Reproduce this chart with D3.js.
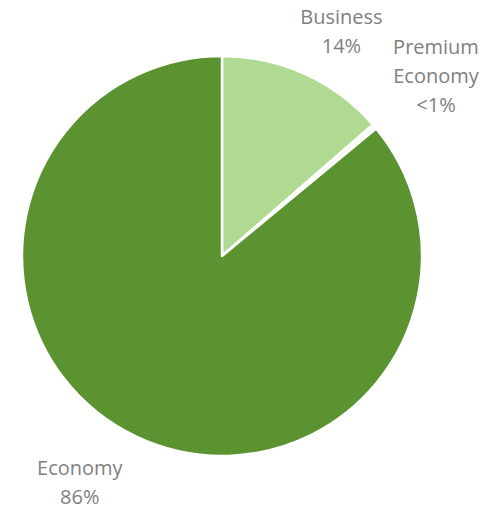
<!DOCTYPE html>
<html>
<head>
<meta charset="utf-8">
<script src="https://cdn.jsdelivr.net/npm/d3@7/dist/d3.min.js"></script>
<style>
  html, body { margin: 0; padding: 0; background: #ffffff; }
  svg { display: block; }
</style>
</head>
<body>
<svg id="chart" width="492" height="513"></svg>
<script>
// Cabin class share of seats
const categories = ["Business", "Premium Economy", "Economy"];
const shares = [13.6, 0.4, 86.0];
const labelLines = [["Business", "14%"], ["Premium", "Economy", "<1%"], ["Economy", "86%"]];
const colors = ["#b0da91", "#f4faef", "#5b9331"];

const width = 492, height = 513;
const cx = 222, cy = 256, radius = 200;
const lineHeight = 29;
// nudges for the label blocks, relative to the label arc centroid
const labelNudge = [[20, 1], [31, -18], [-40, 16]];

const svg = d3.select("#chart");
const g = svg.append("g").attr("transform", `translate(${cx},${cy})`);

const data = categories.map((c, i) => ({ name: c, value: shares[i], lines: labelLines[i], color: colors[i], nudge: labelNudge[i] }));

const pie = d3.pie().sort(null).value(d => d.value).startAngle(0).endAngle(2 * Math.PI);
const arc = d3.arc().innerRadius(0).outerRadius(radius);
const labelArc = d3.arc().innerRadius(240).outerRadius(240);

const arcs = pie(data);

g.selectAll("path.slice")
  .data(arcs)
  .join("path")
  .attr("class", "slice")
  .attr("d", arc)
  .attr("fill", d => d.data.color)
  .attr("stroke", "#ffffff")
  .attr("stroke-width", 2.5)
  .attr("stroke-linejoin", "round");

const labels = g.selectAll("text.label")
  .data(arcs)
  .join("text")
  .attr("class", "label")
  .attr("text-anchor", "middle")
  .attr("font-family", "'Open Sans', sans-serif")
  .attr("font-size", 20)
  .attr("fill", "#808080")
  .attr("transform", d => {
    const [x, y] = labelArc.centroid(d);
    return `translate(${x + d.data.nudge[0]},${y + d.data.nudge[1]})`;
  });

labels.each(function(d) {
  const n = d.data.lines.length;
  const t = d3.select(this);
  d.data.lines.forEach((line, i) => {
    t.append("tspan")
      .attr("x", 0)
      .attr("y", (i - (n - 1) / 2) * lineHeight)
      .text(line);
  });
});
</script>
</body>
</html>
